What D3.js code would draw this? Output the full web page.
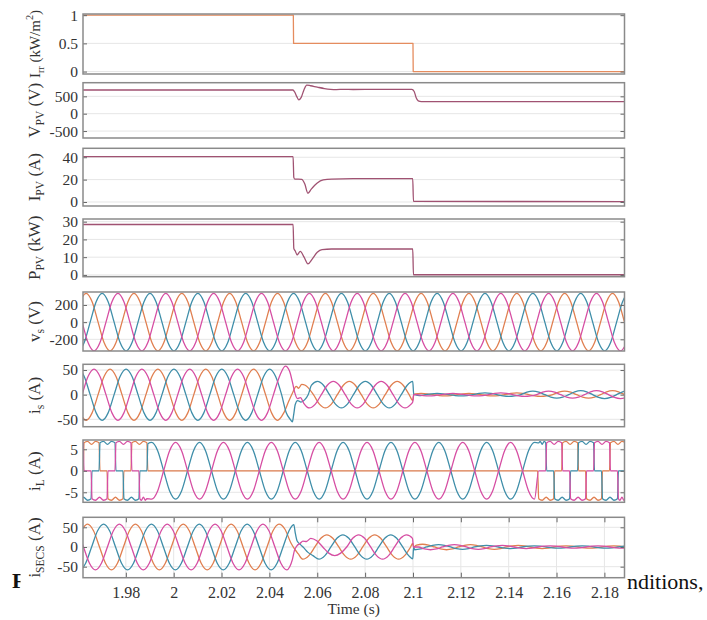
<!DOCTYPE html>
<html>
<head>
<meta charset="utf-8">
<title>PV / SECS waveforms</title>
<script src="https://cdn.jsdelivr.net/npm/d3@7"></script>
<style>
  body { margin: 0; background: #fff; }
  svg text { font-family: "Liberation Serif", "Times New Roman", serif; }
</style>
</head>
<body>
<svg id="chart" width="707" height="620"></svg>
<script>
    var W = 707, H = 620;
    var T = 0.02; // grid period (50 Hz)

    // ---- axes ----
    var timeDomain = [1.9621, 2.1884];
    var timeTicks = [1.98, 2, 2.02, 2.04, 2.06, 2.08, 2.1, 2.12, 2.14, 2.16, 2.18];
    var timeTickLabels = ["1.98", "2", "2.02", "2.04", "2.06", "2.08", "2.1", "2.12", "2.14", "2.16", "2.18"];

    var yDomains = [[-0.043, 1.021], [-700, 893], [-3.6, 48], [-1, 31.5],
                    [-336, 351], [-65, 61.6], [-7.33, 7.16], [-78, 75.4]];
    var yTicks = [[0, 0.5, 1], [-500, 0, 500], [0, 20, 40], [0, 10, 20, 30],
                  [-200, 0, 200], [-50, 0, 50], [-5, 0, 5], [-50, 0, 50]];
    var yTickLabels = [["0", "0.5", "1"], ["-500", "0", "500"], ["0", "20", "40"], ["0", "10", "20", "30"],
                       ["-200", "0", "200"], ["-50", "0", "50"], ["-5", "0", "5"], ["-50", "0", "50"]];
    // label: [main, subscript, rest, superscript, tail]
    var yLabels = [["I", "rr", " (kW/m", "2", ")"], ["V", "PV", " (V)"], ["I", "PV", " (A)"], ["P", "PV", " (kW)"],
                   ["v", "s", " (V)"], ["i", "s", " (A)"], ["i", "L", " (A)"], ["i", "SECS", " (A)"]];

    // ---- PV side ----
    var irradiance = [[1.9621, 1], [2.05, 1], [2.0501, 0.5], [2.1, 0.5], [2.1001, 0], [2.1884, 0]];
    var vPV = [[1.9621, 683], [2.0498, 683], [2.0506, 620], [2.0514, 500], [2.0523, 400], [2.0533, 470],
               [2.0545, 700], [2.0556, 825], [2.0572, 805], [2.0600, 765], [2.0630, 725], [2.0655, 703],
               [2.0680, 694], [2.0710, 702], [2.0750, 697], [2.0850, 700], [2.0995, 698], [2.1005, 640],
               [2.1013, 470], [2.1022, 370], [2.1035, 348], [2.1884, 346]];
    var iPV = [[1.9621, 40.5], [2.0499, 40.5], [2.0502, 22], [2.0506, 20.5], [2.0535, 20.3], [2.0548, 16],
               [2.0561, 7.8], [2.0575, 11.5], [2.0600, 17], [2.0625, 19.7], [2.0660, 20.5], [2.0750, 20.8],
               [2.0999, 20.8], [2.1002, 0.5], [2.1884, 0.4]];
    var pPV = [[1.9621, 28.4], [2.0499, 28.4], [2.0502, 15], [2.0508, 13.5], [2.0516, 11.3], [2.0529, 13.3],
               [2.0545, 10], [2.0561, 6.2], [2.0578, 8.8], [2.0600, 12.8], [2.0620, 14.3], [2.0660, 14.6],
               [2.0999, 14.6], [2.1002, 0.1], [2.1884, 0.1]];

    // ---- three-phase side ----
    // one grid cycle of a sinusoid, read every T/8 as a fraction of its peak
    var sineShape = [0, 0.71, 1, 0.71, 0, -0.71, -1, -0.71];
    // rectifier load: commutation instant, sign per 60 deg window, phase offsets, flat-top ripple
    var rectBase = 1.9690;
    var rectLevels = [1, 1, 0, -1, -1, 0];
    var rectShift = [2, 0, 4];
    var rectTop = [6.5, 6.85, 6.15, 6.85, 6.5];

    // pieces: sine {rise: rising zero time, from, to, peaks per cycle}, explicit {pts}, rectifier {rect: [window from, to]}
    var vsPieces = [
        [{ rise: 1.9584, from: 1.955, to: 2.195, peaks: [335] }],
        [{ rise: 1.9651, from: 1.955, to: 2.195, peaks: [335] }],
        [{ rise: 1.9717, from: 1.955, to: 2.195, peaks: [335] }]
    ];
    var isPieces = [
        [{ rise: 1.9684, from: 1.955, to: 2.0434, peaks: [52] },
         { pts: [[2.0460, -37], [2.0482, -12], [2.0497, 4], [2.0512, 17], [2.0522, 13], [2.0535, 21], [2.0550, 19]] },
         { rise: 1.9684, from: 2.0584, to: 2.0998, peaks: [27] },
         { pts: [[2.0999, -12], [2.1003, -1]] },
         { rise: 1.9584, from: 2.1006, to: 2.195, peaks: [2.5, 2.5, 3.5, 7, 8] }],
        [{ rise: 1.9751, from: 1.955, to: 2.0451, peaks: [52] },
         { pts: [[2.0470, -36], [2.0487, -50], [2.0496, -55], [2.0501, -42], [2.0508, -20], [2.0518, -12],
                 [2.0532, -15], [2.0548, -10], [2.0562, 0]] },
         { rise: 1.9751, from: 2.0575, to: 2.0998, peaks: [27] },
         { pts: [[2.0999, 27], [2.1003, 1]] },
         { rise: 1.9651, from: 2.1006, to: 2.195, peaks: [2.5, 2.5, 3.5, 7, 8] }],
        [{ rise: 1.9617, from: 1.955, to: 2.0442, peaks: [52] },
         { pts: [[2.0467, 58], [2.0484, 48], [2.0496, 26], [2.0506, 4], [2.0517, -8], [2.0530, -6], [2.0543, -17]] },
         { rise: 1.9617, from: 2.0566, to: 2.0998, peaks: [27] },
         { pts: [[2.0999, -15], [2.1003, 0]] },
         { rise: 1.9717, from: 2.1006, to: 2.195, peaks: [2.5, 2.5, 3.5, 7, 8] }]
    ];
    var ilPieces = [
        [{ rect: [-3, 6] }, { pts: [[1.9892, 0], [2.1521, 0]] }, { rect: [55, 66] }],
        [{ rect: [-3, 6] }, { pts: [[1.9892, 6.3]] }, { rise: 1.9858, from: 1.9895, to: 2.1508, peaks: [6.6] }, { rect: [55, 66] }],
        [{ rect: [-3, 6] }, { rise: 1.9958, from: 1.9890, to: 2.1508, peaks: [6.6] }, { rect: [55, 66] }]
    ];
    var secsPieces = [
        [{ rise: 1.9590, from: 1.955, to: 2.0440, peaks: [58] },
         { pts: [[2.0465, 45], [2.0490, 10], [2.0505, -5], [2.0520, -17]] },
         { rise: 1.9590, from: 2.0540, to: 2.0990, peaks: [31] },
         { pts: [[2.0999, 9], [2.1003, 0]] },
         { rise: 1.9590, from: 2.1006, to: 2.195, peaks: [7, 6, 4, 3, 3] }],
        [{ rise: 1.9657, from: 1.955, to: 2.0482, peaks: [58] },
         { pts: [[2.0495, 54], [2.0502, 57], [2.0508, 36], [2.0516, 15], [2.0530, 6], [2.0545, -3], [2.0560, -13]] },
         { rise: 1.9657, from: 2.0580, to: 2.0985, peaks: [31] },
         { pts: [[2.0999, -30], [2.1003, 0]] },
         { rise: 1.9657, from: 2.1006, to: 2.195, peaks: [7, 6, 4, 3, 3] }],
        [{ rise: 1.9723, from: 1.955, to: 2.0473, peaks: [58] },
         { pts: [[2.0485, -50], [2.0496, -32], [2.0505, -8], [2.0515, 3], [2.0528, 9], [2.0540, 15], [2.0555, 14]] },
         { rise: 1.9723, from: 2.0572, to: 2.0998, peaks: [22, 31] },
         { pts: [[2.1002, 0]] },
         { rise: 1.9723, from: 2.1006, to: 2.195, peaks: [7, 6, 4, 3, 3] }]
    ];

    // ---- layout ----
    var plotLeft = 83, plotRight = 624.5;
    var tops = [14, 82.7, 148.3, 219, 292, 364.3, 440, 517.3];
    var bottoms = [74, 138, 206, 276.7, 351, 426.7, 502.3, 577.7];
    var labelSizes = [15, 17, 17, 17, 17, 17, 17, 17];
    var phaseColors = ["#e07f50", "#3f8ea9", "#d64ea3"];
    var pvColor = "#a05272";
    var irrColor = "#e58c5e";

    function rectKnots(phase, j1, j2) {
        var pts = [], e = 0.0002, wd = T / 6;
        function lev(j) { return rectLevels[(((j + rectShift[phase]) % 6) + 6) % 6]; }
        var j = j1;
        while (j < j2) {
            var L = lev(j), je = j;
            while (je + 1 < j2 && lev(je + 1) === L) je++;
            var ts = rectBase + j * wd, te = rectBase + (je + 1) * wd;
            if (L === 0) {
                pts.push([ts + e, 0], [te - e, 0]);
            } else {
                var n = rectTop.length;
                rectTop.forEach(function (v, i) {
                    var t = i === 0 ? ts + e : (i === n - 1 ? te - e : ts + (te - ts) * i / (n - 1));
                    pts.push([t, L * v]);
                });
            }
            j = je + 1;
        }
        return pts;
    }

    function buildKnots(pieces, phase) {
        var pts = [];
        pieces.forEach(function (pc) {
            if (pc.pts) { pts = pts.concat(pc.pts); return; }
            if (pc.rect) { pts = pts.concat(rectKnots(phase, pc.rect[0], pc.rect[1])); return; }
            var step = T / 8;
            var k0 = Math.ceil((pc.from - pc.rise) / step - 1e-6);
            var k1 = Math.floor((pc.to - pc.rise) / step + 1e-6);
            var c0 = Math.floor(k0 / 8);
            for (var k = k0; k <= k1; k++) {
                var c = Math.min(Math.floor(k / 8) - c0, pc.peaks.length - 1);
                pts.push([pc.rise + k * step, pc.peaks[c] * sineShape[((k % 8) + 8) % 8]]);
            }
        });
        return pts.sort(function (a, b) { return a[0] - b[0]; });
    }

    var svg = d3.select("#chart");
    svg.append("rect").attr("width", W).attr("height", H).attr("fill", "#fff");

    // caption of the page peeking out around the figure
    svg.append("clipPath").attr("id", "capClip")
        .append("rect").attr("x", 0).attr("y", 560).attr("width", 20.5).attr("height", 40);
    svg.append("text").attr("x", 12).attr("y", 588).attr("font-size", 22).attr("font-weight", "bold")
        .attr("clip-path", "url(#capClip)").attr("fill", "#111").text("F");
    svg.append("text").attr("x", 627).attr("y", 589).attr("font-size", 22).attr("fill", "#111").text("nditions,");

    var x = d3.scaleLinear().domain(timeDomain).range([plotLeft, plotRight]);

    var panelSeries = [
        [{ pts: irradiance, color: irrColor, curve: d3.curveLinear }],
        [{ pts: vPV, color: pvColor, curve: d3.curveMonotoneX }],
        [{ pts: iPV, color: pvColor, curve: d3.curveMonotoneX }],
        [{ pts: pPV, color: pvColor, curve: d3.curveMonotoneX }],
        vsPieces.map(function (p, i) { return { pts: buildKnots(p, i), color: phaseColors[i], curve: d3.curveMonotoneX }; }),
        isPieces.map(function (p, i) { return { pts: buildKnots(p, i), color: phaseColors[i], curve: d3.curveMonotoneX }; }),
        ilPieces.map(function (p, i) { return { pts: buildKnots(p, i), color: phaseColors[i], curve: d3.curveMonotoneX }; }),
        secsPieces.map(function (p, i) { return { pts: buildKnots(p, i), color: phaseColors[i], curve: d3.curveMonotoneX }; })
    ];

    panelSeries.forEach(function (series, pi) {
        var y = d3.scaleLinear().domain(yDomains[pi]).range([bottoms[pi], tops[pi]]);
        var g = svg.append("g");
        var clipId = "clip" + pi;
        svg.append("clipPath").attr("id", clipId).append("rect")
            .attr("x", plotLeft).attr("y", tops[pi])
            .attr("width", plotRight - plotLeft).attr("height", bottoms[pi] - tops[pi]);

        // grid
        g.selectAll(".hg").data(yTicks[pi]).enter().append("line")
            .attr("x1", plotLeft).attr("x2", plotRight)
            .attr("y1", function (d) { return y(d); }).attr("y2", function (d) { return y(d); })
            .attr("stroke", "#e6e6e6").attr("stroke-width", 1);
        if (pi === 7) {
            g.selectAll(".vg").data(timeTicks).enter().append("line")
                .attr("y1", tops[pi]).attr("y2", bottoms[pi])
                .attr("x1", function (d) { return x(d); }).attr("x2", function (d) { return x(d); })
                .attr("stroke", "#e6e6e6").attr("stroke-width", 1);
        }

        var line = d3.line().x(function (d) { return x(d[0]); }).y(function (d) { return y(d[1]); });
        var lg = g.append("g").attr("clip-path", "url(#" + clipId + ")");
        series.forEach(function (s) {
            lg.append("path").datum(s.pts)
                .attr("d", line.curve(s.curve))
                .attr("fill", "none").attr("stroke", s.color).attr("stroke-width", 1.3)
                .attr("stroke-linejoin", "round");
        });

        // axes
        var yl = g.append("g").attr("transform", "translate(" + plotLeft + ",0)")
            .call(d3.axisLeft(y).tickValues(yTicks[pi])
                .tickFormat(function (d, k) { return yTickLabels[pi][k]; })
                .tickSizeInner(-4).tickSizeOuter(0).tickPadding(5));
        var yr = g.append("g").attr("transform", "translate(" + plotRight + ",0)")
            .call(d3.axisRight(y).tickValues(yTicks[pi]).tickFormat("")
                .tickSizeInner(-4).tickSizeOuter(0));
        [yl, yr].forEach(function (a) {
            a.select(".domain").remove();
            a.selectAll("line").attr("stroke", "#666");
            a.selectAll("text").attr("font-size", 15.5).attr("fill", "#333")
                .attr("font-family", "Liberation Serif, serif");
        });

        if (pi === 7) {
            var xb = g.append("g").attr("transform", "translate(0," + bottoms[pi] + ")")
                .call(d3.axisBottom(x).tickValues(timeTicks)
                    .tickFormat(function (d, k) { return timeTickLabels[k]; })
                    .tickSizeInner(-5).tickSizeOuter(0).tickPadding(9));
            var xt = g.append("g").attr("transform", "translate(0," + tops[pi] + ")")
                .call(d3.axisTop(x).tickValues(timeTicks).tickFormat("")
                    .tickSizeInner(-5).tickSizeOuter(0));
            [xb, xt].forEach(function (a) {
                a.select(".domain").remove();
                a.selectAll("line").attr("stroke", "#666");
                a.selectAll("text").attr("font-size", 16).attr("fill", "#333")
                    .attr("font-family", "Liberation Serif, serif");
            });
        }

        // frame
        g.append("rect").attr("x", plotLeft).attr("y", tops[pi])
            .attr("width", plotRight - plotLeft).attr("height", bottoms[pi] - tops[pi])
            .attr("fill", "none").attr("stroke", "#8a8a8a").attr("stroke-width", 1.5);

        // y label
        var cy = (tops[pi] + bottoms[pi]) / 2;
        var lab = yLabels[pi];
        var fs = labelSizes[pi];
        var t = svg.append("text").attr("x", 40).attr("y", cy)
            .attr("transform", "rotate(-90,40," + cy + ")")
            .attr("text-anchor", "middle").attr("font-size", fs).attr("fill", "#333");
        t.append("tspan").text(lab[0]);
        t.append("tspan").attr("font-size", fs * 0.68).attr("dy", 4).text(lab[1]);
        t.append("tspan").attr("dy", -4).text(lab[2]);
        if (lab.length > 3) {
            t.append("tspan").attr("font-size", fs * 0.68).attr("dy", -7).text(lab[3]);
            t.append("tspan").attr("dy", 7).text(lab[4]);
        }
    });

    svg.append("text").attr("x", (plotLeft + plotRight) / 2).attr("y", 614)
        .attr("text-anchor", "middle").attr("font-size", 15.5).attr("fill", "#333").text("Time (s)");
</script>
</body>
</html>
